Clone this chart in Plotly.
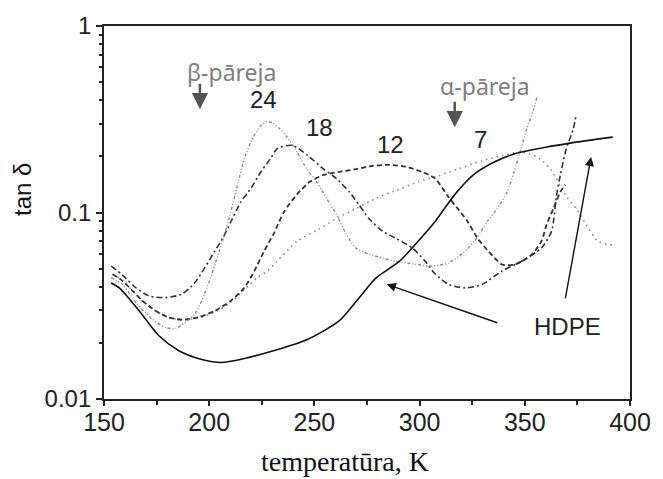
import math
import plotly.graph_objects as go

# HDPE (solid)
hdpe_T = [153.4, 157.3, 166.7, 176.0, 185.4, 194.8, 205.6, 216.8, 230.9, 246.4, 261.9,
          271.3, 279.3, 290.5, 298.0, 307.4, 316.7, 326.1, 335.5, 344.9, 360.4, 371.6, 391.8]
hdpe_tan = [0.0419, 0.0394, 0.0297, 0.0219, 0.0182, 0.0165, 0.0157, 0.0165, 0.0182, 0.0208, 0.0263,
            0.0349, 0.0446, 0.0548, 0.0676, 0.0896, 0.1247, 0.161, 0.1866, 0.206, 0.2244, 0.2355, 0.2535]

# sample 24
s24_T = [153.4, 158.8, 165.1, 172.9, 179.2, 183.9, 193.2, 199.5, 204.8, 209.5, 214.2, 216.7, 219.8,
         224.5, 227.5, 230.4, 233.7, 237.0, 241.7, 246.4, 251.1, 255.8, 260.5, 265.2, 269.8, 275.9,
         282.5, 288.6, 298.0, 306.0, 313.5, 320.0, 326.1, 332.2, 336.9, 341.6, 344.9, 348.2, 350.9,
         354.2, 355.7]
s24_tan = [0.0448, 0.0412, 0.0330, 0.0268, 0.0242, 0.0239, 0.0286, 0.0412, 0.0620, 0.0933, 0.152, 0.195, 0.239,
           0.292, 0.307, 0.301, 0.280, 0.254, 0.211, 0.171, 0.146, 0.119, 0.0976, 0.0764, 0.0644, 0.0598,
           0.0569, 0.0548, 0.0528, 0.0516, 0.0535, 0.0598, 0.0701, 0.0895, 0.105, 0.129, 0.165, 0.219, 0.280,
           0.357, 0.414]

# sample 18
s18_T = [153.4, 158.7, 165.1, 171.3, 179.2, 187.0, 193.2, 197.9, 202.6, 206.5, 210.4, 215.1, 219.8,
         224.5, 229.2, 232.3, 239.4, 246.4, 254.4, 260.5, 266.6, 271.2, 275.9, 282.5, 288.6, 296.6,
         302.7, 307.4, 313.9, 321.8, 329.6, 339.1, 348.5, 357.9, 362.7, 365.0, 366.9, 369.7, 373.0, 374.4]
s18_tan = [0.0516, 0.0463, 0.0395, 0.0357, 0.0350, 0.0365, 0.0421, 0.0506, 0.0620, 0.0730, 0.0895, 0.1144, 0.1345,
           0.165, 0.195, 0.220, 0.229, 0.204, 0.171, 0.152, 0.129, 0.110, 0.0929, 0.0792, 0.0728, 0.0644,
           0.0548, 0.0468, 0.0411, 0.0394, 0.0411, 0.0485, 0.0548, 0.0645, 0.0792, 0.122, 0.159, 0.219, 0.280, 0.332]

# sample 12
s12_T = [154.1, 158.8, 168.2, 174.5, 180.7, 187.0, 194.8, 202.6, 210.4, 216.7, 221.4, 226.1, 230.8,
         235.6, 241.7, 247.8, 254.4, 261.9, 269.8, 277.8, 285.3, 293.3, 301.3, 307.4, 313.5, 318.1,
         322.8, 327.5, 332.7, 339.3, 345.3, 353.2, 357.9, 360.4, 363.6, 366.9, 369.3]
s12_tan = [0.0467, 0.0430, 0.0337, 0.0297, 0.0274, 0.0266, 0.0274, 0.0297, 0.0337, 0.0395, 0.0485, 0.0620, 0.0776,
           0.101, 0.125, 0.146, 0.159, 0.165, 0.171, 0.178, 0.180, 0.176, 0.165, 0.152, 0.122, 0.105,
           0.0895, 0.0728, 0.0620, 0.0526, 0.0526, 0.0594, 0.0701, 0.0863, 0.105, 0.129, 0.141]

# sample 7
s7_T = [154.1, 158.8, 168.2, 174.5, 180.7, 187.0, 194.8, 202.6, 210.4, 216.7, 222.9, 227.6, 232.3,
        241.7, 251.1, 260.5, 269.8, 279.2, 288.6, 299.4, 308.8, 318.1, 329.4, 338.8, 348.2, 355.7,
        362.2, 369.7, 374.4, 379.1, 384.8, 391.8]
s7_tan = [0.0467, 0.0430, 0.0337, 0.0297, 0.0274, 0.0266, 0.0272, 0.0292, 0.0330, 0.0385, 0.0448, 0.0485, 0.0548,
          0.0701, 0.0802, 0.0929, 0.105, 0.119, 0.131, 0.146, 0.157, 0.171, 0.189, 0.201, 0.211, 0.199,
          0.171, 0.122, 0.105, 0.0863, 0.0701, 0.0667]

x_ticks = [150, 200, 250, 300, 350, 400]
y_ticks = [0.01, 0.1, 1]
y_tick_text = ["0.01", "0.1", "1"]

fig = go.Figure()

def add(T, v, color, width, dash, name):
    fig.add_trace(go.Scatter(x=T, y=v, mode="lines", name=name,
                             line=dict(color=color, width=width, dash=dash, shape="spline", smoothing=0.7)))

add(s7_T, s7_tan, "#8a8a8a", 1.6, "1.5px,4px", "7")
add(s12_T, s12_tan, "#333333", 1.8, "5px,3px", "12")
add(s18_T, s18_tan, "#333333", 1.6, "6px,3px,2px,3px", "18")
add(s24_T, s24_tan, "#8a8a8a", 1.4, "3px,2px,1px,2px,1px,2px", "24")
add(hdpe_T, hdpe_tan, "#111111", 1.6, "solid", "HDPE")

FONT = "Liberation Sans, Arial, sans-serif"
L = math.log10

ann = []
def label(text, x, y, size=24, color="#222222", family=FONT):
    ann.append(dict(x=x, y=L(y), xref="x", yref="y", text=text, showarrow=False,
                    xanchor="center", yanchor="middle",
                    font=dict(family=family, size=size, color=color)))

label("24", 225.7, 10 ** -0.394)
label("18", 252.3, 10 ** -0.543)
label("12", 286.3, 10 ** -0.636)
label("7", 328.9, 10 ** -0.606)
label("HDPE", 370.1, 10 ** -1.610)
label("β-pāreja", 210.5, 10 ** -0.245, size=23, color="#808080", family="Noto Sans, Open Sans, sans-serif")
label("α-pāreja", 331.3, 10 ** -0.324, size=23, color="#808080", family="Noto Sans, Open Sans, sans-serif")

def arrow(x, y, ax, ay, color, width, head, size):
    ann.append(dict(x=x, y=L(y), xref="x", yref="y", ax=ax, ay=ay, text="", showarrow=True,
                    arrowhead=head, arrowsize=size, arrowwidth=width, arrowcolor=color))

arrow(195.6, 10 ** -0.447, 0, -27, "#555555", 2.5, 2, 1.3)
arrow(316.7, 10 ** -0.543, 0, -27, "#555555", 2.5, 2, 1.3)
arrow(284.4, 10 ** -1.385, 112, 39, "#111111", 1.4, 2, 1.3)
arrow(381.5, 10 ** -0.702, -26, 143, "#111111", 1.4, 2, 1.3)

W, H = 663, 479
ml, mr, mt, mb = 104, 25, 23, 80

def paper(px, py):
    return (px - ml) / (W - ml - mr), (H - mb - py) / (H - mt - mb)

tx, ty = paper(349, 462)
ann.append(dict(x=tx, y=ty, xref="paper", yref="paper", text="temperatūra, K", showarrow=False,
                xanchor="center", yanchor="middle",
                font=dict(family="Liberation Serif, Times New Roman, serif", size=28, color="#111111")))
yx, yy = paper(20.5, 187.5)
ann.append(dict(x=yx, y=yy, xref="paper", yref="paper", text="tan δ", showarrow=False, textangle=-90,
                xanchor="center", yanchor="middle",
                font=dict(family=FONT, size=24, color="#111111")))

fig.update_layout(
    width=W, height=H,
    margin=dict(l=ml, r=mr, t=mt, b=mb, pad=0),
    paper_bgcolor="white", plot_bgcolor="white",
    showlegend=False,
    annotations=ann,
    font=dict(family=FONT, size=24, color="#222222"),
)
fig.update_xaxes(range=[150, 400], tickvals=x_ticks, ticks="outside", ticklen=5, tickwidth=1.5,
                 tickcolor="#222", showline=True, linecolor="#222", linewidth=1.8, mirror=True,
                 showgrid=False, zeroline=False, tickfont=dict(size=25, color="#222"),
                 ticklabelstandoff=-5,
                 minor=dict(tickvals=[175, 225, 275, 325, 375], ticks="outside", ticklen=4,
                            tickwidth=1.5, tickcolor="#222", showgrid=False))
fig.update_yaxes(type="log", range=[-2, 0], tickvals=y_ticks, ticktext=y_tick_text, ticks="outside",
                 ticklen=6, tickwidth=1.5, tickcolor="#222", showline=True, linecolor="#222",
                 linewidth=1.8, mirror=True, showgrid=False, zeroline=False,
                 tickfont=dict(size=24, color="#222"),
                 minor=dict(tickvals=[0.02, 0.03, 0.04, 0.05, 0.06, 0.07, 0.08, 0.09,
                                      0.2, 0.3, 0.4, 0.5, 0.6, 0.7, 0.8, 0.9],
                            ticks="outside", ticklen=3, tickwidth=1.5, tickcolor="#222", showgrid=False))

fig.write_html("out.html")
